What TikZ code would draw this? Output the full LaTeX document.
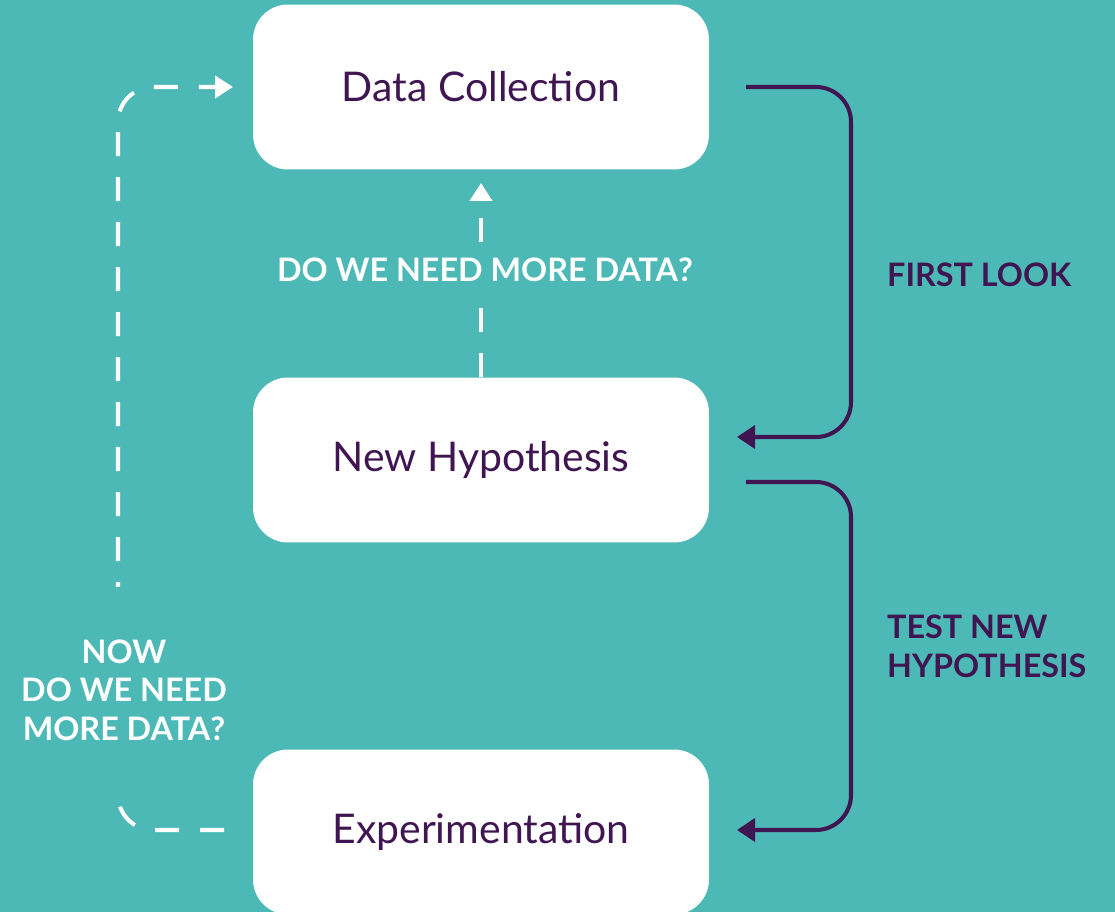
\documentclass[tikz,border=0pt]{standalone}
\usepackage{fontspec}
\setmainfont{Lato}
\usetikzlibrary{arrows.meta, positioning}
\definecolor{sciteal}{RGB}{77, 185, 182}
\definecolor{sciplum}{RGB}{63, 22, 81}

\begin{document}
\begin{tikzpicture}[x=0.02cm, y=-0.02cm,
  stagebox/.style={fill=white, rounded corners=0.7cm, minimum width=9.12cm, minimum height=3.3cm,
    text=sciplum, font=\fontsize{23.3}{28}\selectfont},
  loopline/.style={draw=white, line width=2.3pt, dash pattern=on 0.48cm off 0.42cm, rounded corners=0.7cm,
    -{Triangle[length=0.36cm, width=0.44cm]}},
  flowline/.style={draw=sciplum, line width=2.3pt, rounded corners=0.7cm,
    -{Triangle[length=0.36cm, width=0.46cm]}},
  whitetag/.style={text=white, font=\bfseries\fontsize{18.4}{22}\selectfont, align=center},
  plumtag/.style={text=sciplum, font=\bfseries\fontsize{18.4}{22}\selectfont, align=left, anchor=west}]
  \fill[sciteal] (0,0) rectangle (1115,912);
  \useasboundingbox (0,0) rectangle (1115,912);

  % the three stages
  \node[stagebox] (collect) at (481,87) {Data Collection};
  \node[stagebox] (hypo) at (481,460) {New Hypothesis};
  \node[stagebox] (expt) at (481,832) {Experimentation};

  % dashed loops back to the data
  \coordinate (upfrom) at (481,377);
  \coordinate (upto) at (481,183);
  \draw[loopline] (upfrom) -- (upto);
  \node[whitetag, fill=sciteal, inner xsep=4pt, inner ysep=8pt] (moredata) at (485,270) {DO WE NEED MORE DATA?};

  \coordinate (backfrom) at (224,830);
  \coordinate (backto) at (233,87);
  \draw[loopline] (backfrom) -- (118,830) -- (118,87) -- (backto);
  \node[whitetag, fill=sciteal, inner xsep=4pt, inner ysep=1.05cm] (nowmore) at (124,690) {NOW\\DO WE NEED\\MORE DATA?};

  % solid arrows on the right
  \coordinate (lookfrom) at (746,87);
  \coordinate (lookto) at (737,437);
  \draw[flowline] (lookfrom) -- (851,87) -- (851,437) -- (lookto);
  \node[plumtag] (firstlook) at (881,275) {FIRST LOOK};

  \coordinate (testfrom) at (746,482);
  \coordinate (testto) at (737,830);
  \draw[flowline] (testfrom) -- (851,482) -- (851,830) -- (testto);
  \node[plumtag] (testnew) at (881,646) {TEST NEW\\HYPOTHESIS};
\end{tikzpicture}
\end{document}
